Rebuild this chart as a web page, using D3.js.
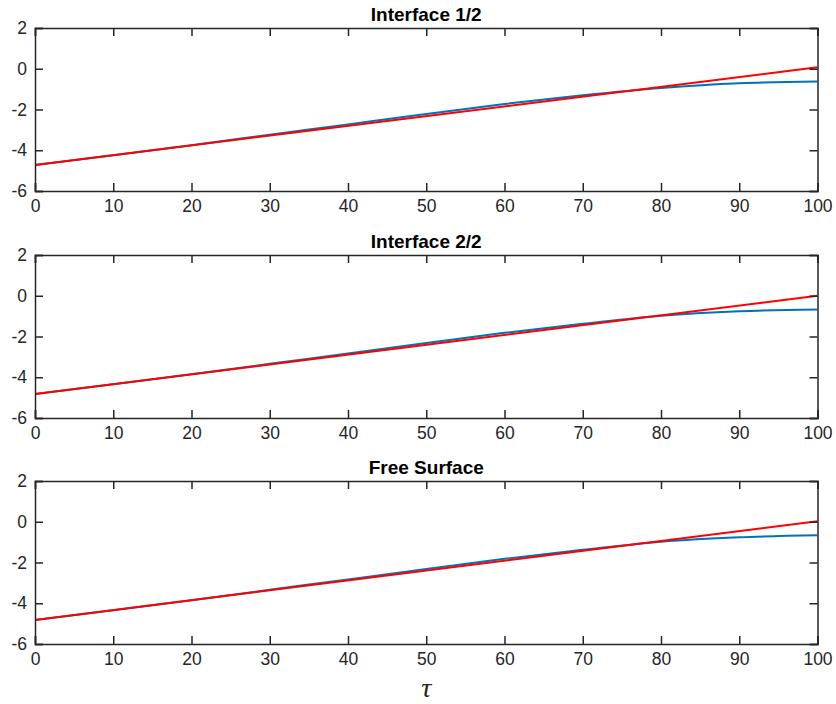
<!DOCTYPE html>
<html>
<head>
<meta charset="utf-8">
<script src="https://cdn.jsdelivr.net/npm/d3@7"></script>
<style>
  html, body { margin: 0; padding: 0; background: #fff; }
  svg { display: block; }
</style>
</head>
<body>
<svg id="chart" width="836" height="704"></svg>
<script>
// Sample times (tau) where the curves are given
const tauPoints = [0, 10, 20, 30, 40, 50, 60, 70, 80, 90, 100];

// Panel titles
const panelTitles = ["Interface 1/2", "Interface 2/2", "Free Surface"];

// Computed response (blue) per panel
const blueInterface1 = [-4.72, -4.24, -3.75, -3.24, -2.73, -2.22, -1.73, -1.30, -0.94, -0.71, -0.63];
const blueInterface2 = [-4.82, -4.34, -3.85, -3.34, -2.83, -2.32, -1.82, -1.38, -0.98, -0.76, -0.67];
const blueSurface    = [-4.82, -4.34, -3.85, -3.34, -2.83, -2.32, -1.82, -1.38, -0.98, -0.76, -0.66];

// Reference straight line (red): endpoints per panel
const redTau = [0, 100];
const redInterface1 = [-4.72, 0.07];
const redInterface2 = [-4.82, 0.00];
const redSurface    = [-4.82, 0.02];

// Axis ticks
const xTicks = [0, 10, 20, 30, 40, 50, 60, 70, 80, 90, 100];
const yTicks = [-6, -4, -2, 0, 2];
const xDomain = [0, 100];
const yDomain = [-6, 2];

const blueSeries = [blueInterface1, blueInterface2, blueSurface];
const redSeries = [redInterface1, redInterface2, redSurface];

const svg = d3.select("#chart");
const left = 35, right = 817.5, plotH = 163;
const tops = [28, 255, 481];
const axisColor = "#262626";
const font = "'Liberation Sans', Arial, Helvetica, sans-serif";

const x = d3.scaleLinear().domain(xDomain).range([left, right]);

tops.forEach((top, i) => {
  const y = d3.scaleLinear().domain(yDomain).range([top + plotH, top]);
  const g = svg.append("g");

  const clipId = "clip" + i;
  svg.append("clipPath").attr("id", clipId)
    .append("rect").attr("x", left).attr("y", top).attr("width", right - left).attr("height", plotH);

  // data lines
  const lineBlue = d3.line().x((d, k) => x(tauPoints[k])).y(d => y(d)).curve(d3.curveMonotoneX);
  const lineRed = d3.line().x((d, k) => x(redTau[k])).y(d => y(d));
  const lines = g.append("g").attr("clip-path", `url(#${clipId})`);
  lines.append("path").datum(blueSeries[i]).attr("d", lineBlue)
    .attr("fill", "none").attr("stroke", "#0072BD").attr("stroke-width", 2);
  lines.append("path").datum(redSeries[i]).attr("d", lineRed)
    .attr("fill", "none").attr("stroke", "#FF0000").attr("stroke-width", 2);

  // axes with inward ticks on all four sides
  const tickLen = 8;
  const bottomAxis = d3.axisBottom(x).tickValues(xTicks).tickSize(-tickLen).tickPadding(9).tickFormat(d3.format("d"));
  const topAxis = d3.axisTop(x).tickValues(xTicks).tickSize(-tickLen).tickFormat("");
  const leftAxis = d3.axisLeft(y).tickValues(yTicks).tickSize(-tickLen).tickPadding(8).tickFormat(d => String(d));
  const rightAxis = d3.axisRight(y).tickValues(yTicks).tickSize(-tickLen).tickFormat("");

  const axes = [
    g.append("g").attr("transform", `translate(0,${top + plotH})`).call(bottomAxis),
    g.append("g").attr("transform", `translate(0,${top})`).call(topAxis),
    g.append("g").attr("transform", `translate(${left},0)`).call(leftAxis),
    g.append("g").attr("transform", `translate(${right},0)`).call(rightAxis)
  ];
  axes.forEach(a => {
    a.select(".domain").attr("stroke", axisColor).attr("stroke-width", 1.5);
    a.selectAll(".tick line").attr("stroke", axisColor).attr("stroke-width", 1.5);
    a.selectAll(".tick text").attr("fill", axisColor).style("font-size", "17.5px").style("font-family", font);
  });

  // panel title
  svg.append("text")
    .attr("x", (left + right) / 2).attr("y", top - 7)
    .attr("text-anchor", "middle")
    .style("font-family", font).style("font-weight", "bold").style("font-size", "19px")
    .attr("fill", "#000")
    .text(panelTitles[i]);
});

// x-axis label
svg.append("text")
  .attr("x", (left + right) / 2).attr("y", 697)
  .attr("text-anchor", "middle")
  .style("font-family", "'Liberation Serif', 'DejaVu Serif', serif").style("font-style", "italic").style("font-size", "28px")
  .attr("fill", axisColor)
  .text("τ");
</script>
</body>
</html>
